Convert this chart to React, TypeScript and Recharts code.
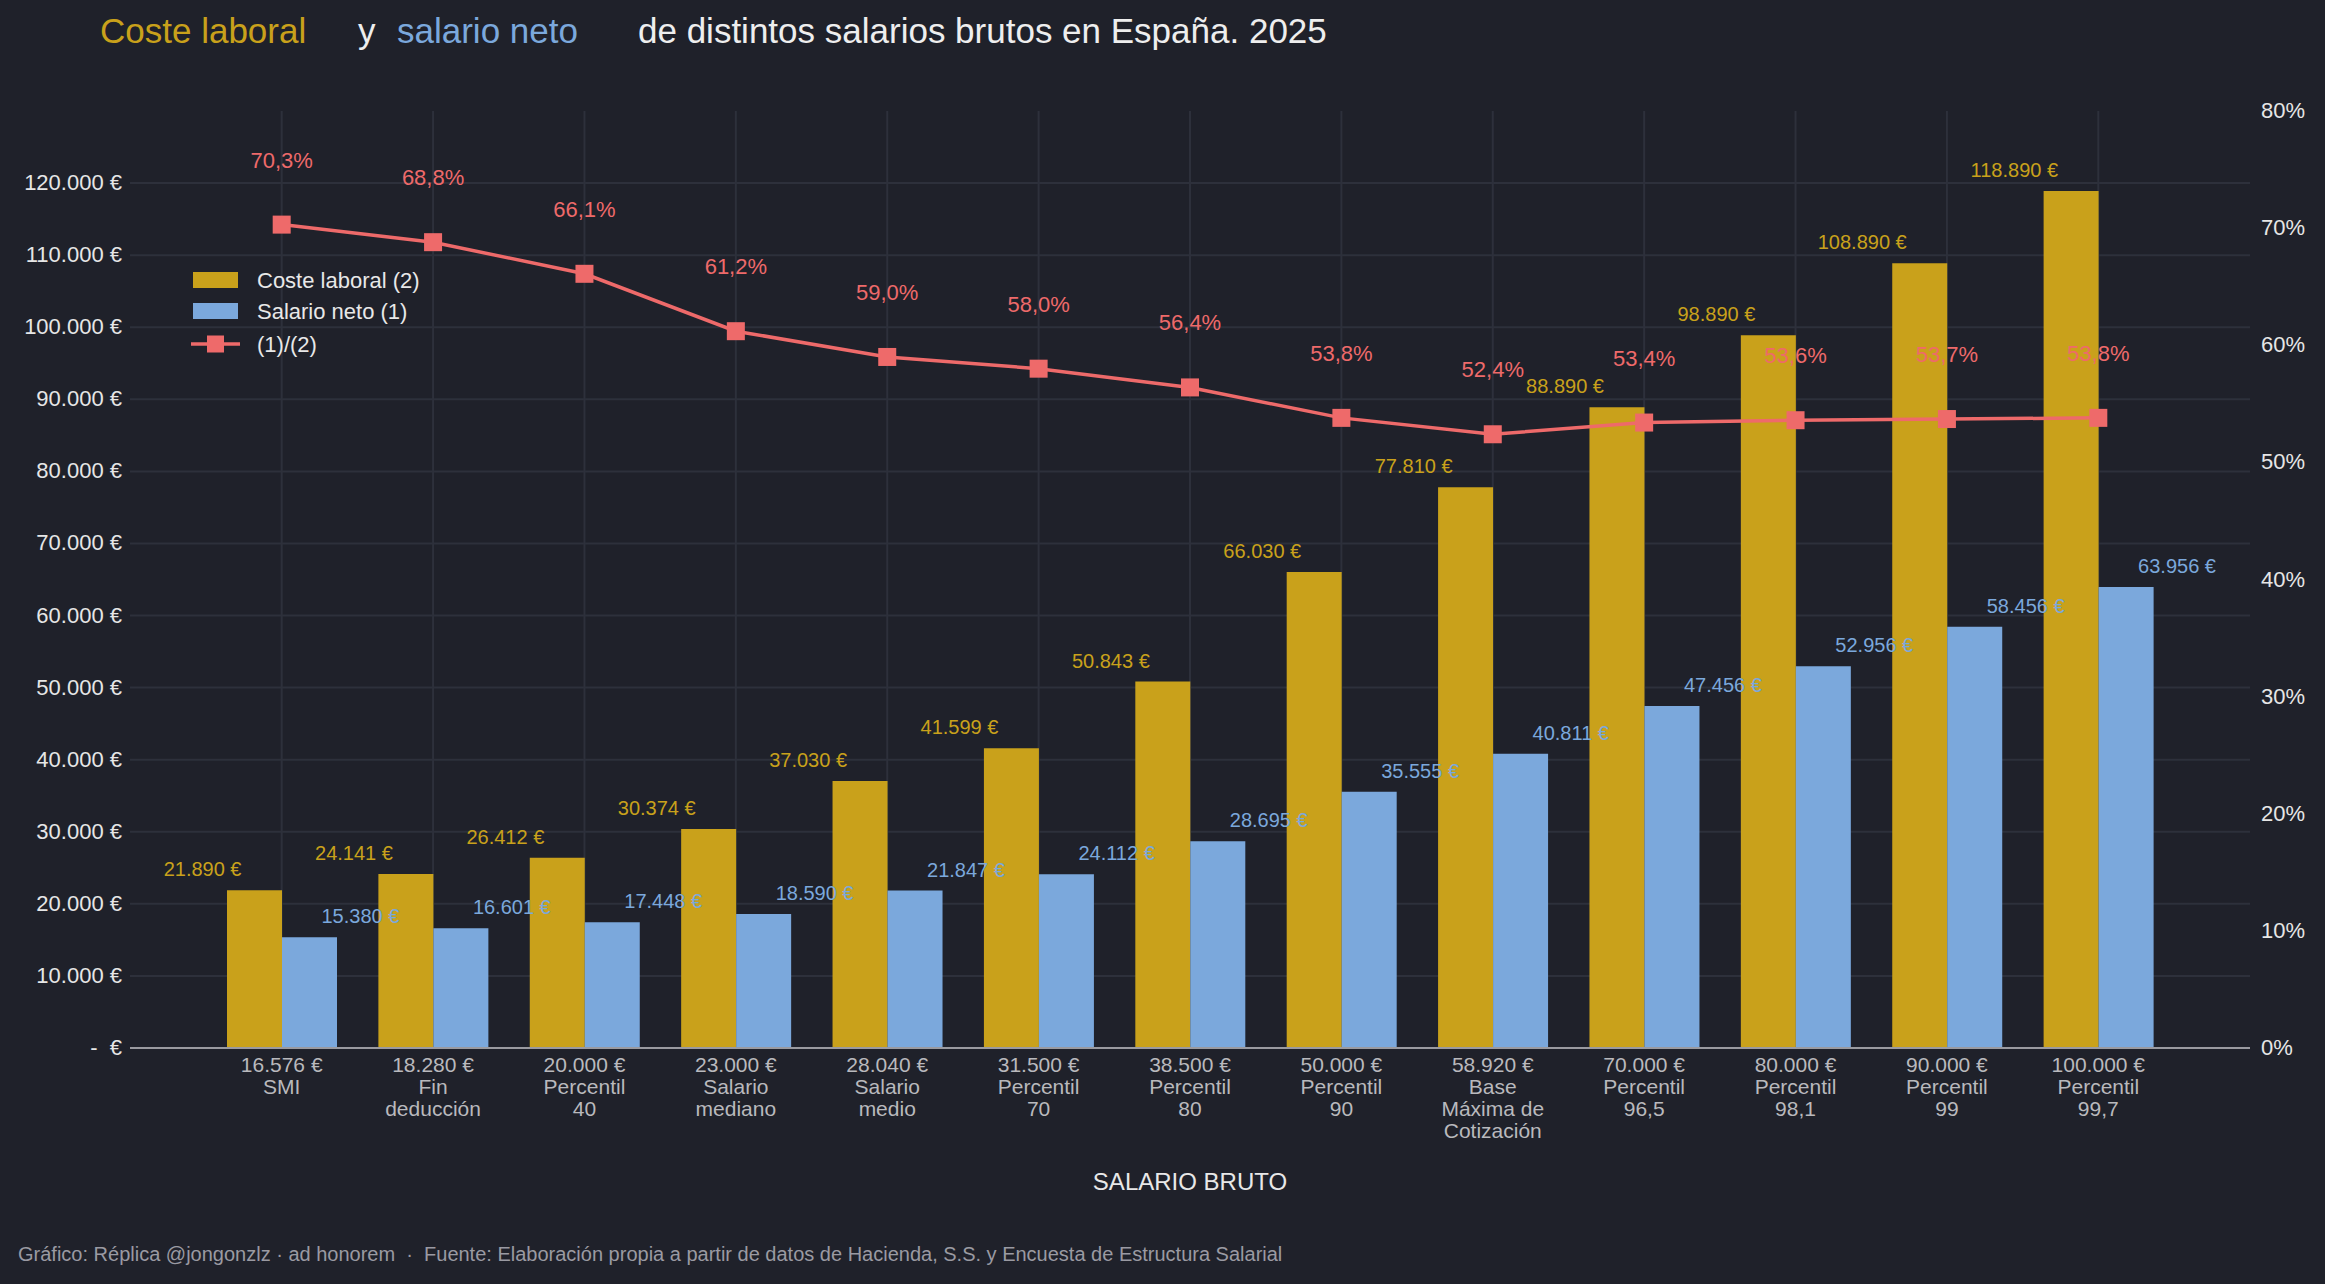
import React from 'react';
import { ComposedChart, Bar, Line, XAxis, YAxis, CartesianGrid, Legend, LabelList } from 'recharts';

const brutos = ['16.576 €', '18.280 €', '20.000 €', '23.000 €', '28.040 €', '31.500 €', '38.500 €', '50.000 €', '58.920 €', '70.000 €', '80.000 €', '90.000 €', '100.000 €'];
const descripciones = ['SMI', 'Fin\ndeducción', 'Percentil\n40', 'Salario\nmediano', 'Salario\nmedio', 'Percentil\n70', 'Percentil\n80', 'Percentil\n90', 'Base\nMáxima de\nCotización', 'Percentil\n96,5', 'Percentil\n98,1', 'Percentil\n99', 'Percentil\n99,7'];
const costeLaboral = [21890, 24141, 26412, 30374, 37030, 41599, 50843, 66030, 77810, 88890, 98890, 108890, 118890];
const salarioNeto = [15380, 16601, 17448, 18590, 21847, 24112, 28695, 35555, 40811, 47456, 52956, 58456, 63956];
const ratio = [0.703, 0.688, 0.661, 0.612, 0.59, 0.58, 0.564, 0.538, 0.524, 0.534, 0.536, 0.537, 0.538];
const leftTicks = [0, 10000, 20000, 30000, 40000, 50000, 60000, 70000, 80000, 90000, 100000, 110000, 120000];
const rightTicks = [0, 0.1, 0.2, 0.3, 0.4, 0.5, 0.6, 0.7, 0.8];

const BG = '#1f212a';
const GOLD = '#c9a11b';
const BLUE = '#7ba8dc';
const RED = '#ee6a6a';
const GRID = '#2d303b';
const FONT = '"Liberation Sans", Arial, sans-serif';

const data = brutos.map((b, i) => ({
  cat: b,
  coste: costeLaboral[i],
  neto: salarioNeto[i],
  ratio: ratio[i],
}));

const fmtEuro = (v: number) => String(v).replace(/\B(?=(\d{3})+(?!\d))/g, '.') + ' €';
const fmtPct = (v: number) => (v * 100).toFixed(1).replace('.', ',') + '%';

const LeftTick = (props: any) => {
  const { x, y, payload } = props;
  const v = payload.value as number;
  const label = v === 0 ? '-  €' : fmtEuro(v);
  return (
    <text x={x} y={y} dy={7} textAnchor="end" fill="#e6e6e6" fontSize={22} fontFamily={FONT} style={{ whiteSpace: 'pre' }}>
      {label}
    </text>
  );
};

const RightTick = (props: any) => {
  const { x, y, payload } = props;
  return (
    <text x={x} y={y} dy={7} textAnchor="start" fill="#e6e6e6" fontSize={22} fontFamily={FONT}>
      {Math.round(payload.value * 100) + '%'}
    </text>
  );
};

const XTick = (props: any) => {
  const { x, y, payload, index } = props;
  const idx = brutos.indexOf(payload.value);
  const lines = [payload.value, ...(descripciones[idx >= 0 ? idx : index] || '').split('\n')];
  return (
    <text x={x} y={y} textAnchor="middle" fill="#b9b9bd" fontSize={21} fontFamily={FONT}>
      {lines.map((l, i) => (
        <tspan key={i} x={x} dy={i === 0 ? 16 : 22}>{l}</tspan>
      ))}
    </text>
  );
};

const GoldLabel = (props: any) => {
  const { x, y, width, value } = props;
  return (
    <text x={x + width / 2 - 13} y={y - 14} textAnchor="end" fill={GOLD} fontSize={20} fontFamily={FONT}>
      {fmtEuro(value)}
    </text>
  );
};

const BlueLabel = (props: any) => {
  const { x, y, width, value } = props;
  return (
    <text x={x + width / 2 + 12} y={y - 14} textAnchor="start" fill={BLUE} fontSize={20} fontFamily={FONT}>
      {fmtEuro(value)}
    </text>
  );
};

const RatioLabel = (props: any) => {
  const { x, y, value } = props;
  return (
    <text x={x} y={y - 57} textAnchor="middle" fill={RED} fontSize={22} fontFamily={FONT}>
      {fmtPct(value)}
    </text>
  );
};

const SquareDot = (props: any) => {
  const { cx, cy, index } = props;
  if (cx == null || cy == null) return <g key={`d-${index}`} />;
  return <rect key={`d-${index}`} x={cx - 9} y={cy - 9} width={18} height={18} fill={RED} />;
};

const LegendContent = () => (
  <svg width={320} height={110} style={{ display: 'block' }}>
    <rect x={8} y={13} width={45} height={16} fill={GOLD} />
    <text x={72} y={29} fill="#e8e8e8" fontSize={22} fontFamily={FONT}>Coste laboral (2)</text>
    <rect x={8} y={44} width={45} height={16} fill={BLUE} />
    <text x={72} y={60} fill="#e8e8e8" fontSize={22} fontFamily={FONT}>Salario neto (1)</text>
    <line x1={6} x2={55} y1={85} y2={85} stroke={RED} strokeWidth={3.5} />
    <rect x={22} y={76.5} width={17} height={17} fill={RED} />
    <text x={72} y={93} fill="#e8e8e8" fontSize={22} fontFamily={FONT}>(1)/(2)</text>
  </svg>
);

export default function App() {
  return (
    <div style={{ position: 'absolute', left: 0, top: 0, width: 2325, height: 1284, background: BG, fontFamily: FONT, overflow: 'hidden' }}>
      <ComposedChart
        width={2325}
        height={1284}
        data={data}
        margin={{ top: 111, right: 0, bottom: 0, left: 0 }}
        barGap={0}
        barSize={55}
      >
        <CartesianGrid yAxisId="left" stroke={GRID} strokeWidth={2} syncWithTicks />
        <XAxis
          dataKey="cat"
          height={236}
          padding={{ left: 76, right: 76 }}
          tick={<XTick />}
          tickLine={false}
          axisLine={{ stroke: '#9a9aa0', strokeWidth: 2 }}
          interval={0}
          label={{ value: 'SALARIO BRUTO', position: 'insideBottom', offset: 94, fill: '#e8e8e8', fontSize: 24, fontFamily: FONT }}
        />
        <YAxis
          yAxisId="left"
          width={130}
          domain={[0, 130000]}
          ticks={leftTicks}
          tick={<LeftTick />}
          tickLine={false}
          axisLine={false}
        />
        <YAxis
          yAxisId="right"
          orientation="right"
          width={75}
          domain={[0, 0.8]}
          ticks={rightTicks}
          tick={<RightTick />}
          tickLine={false}
          axisLine={false}
          tickMargin={5}
        />
        <Legend
          layout="vertical"
          align="center"
          verticalAlign="middle"
          wrapperStyle={{ left: 185, top: 259, width: 320, height: 110 }}
          content={<LegendContent />}
        />
        <Bar yAxisId="left" dataKey="coste" name="Coste laboral (2)" fill={GOLD} isAnimationActive={false}>
          <LabelList dataKey="coste" content={<GoldLabel />} />
        </Bar>
        <Bar yAxisId="left" dataKey="neto" name="Salario neto (1)" fill={BLUE} isAnimationActive={false}>
          <LabelList dataKey="neto" content={<BlueLabel />} />
        </Bar>
        <Line
          yAxisId="right"
          dataKey="ratio"
          name="(1)/(2)"
          type="linear"
          stroke={RED}
          strokeWidth={3.5}
          dot={SquareDot}
          activeDot={false}
          isAnimationActive={false}
        >
          <LabelList dataKey="ratio" content={<RatioLabel />} />
        </Line>
      </ComposedChart>
      <svg width={2325} height={1284} style={{ position: 'absolute', left: 0, top: 0, pointerEvents: 'none' }}>
        <text x={100} y={43} fontSize={35} fontFamily={FONT} fill={GOLD}>Coste laboral</text>
        <text x={358} y={43} fontSize={35} fontFamily={FONT} fill="#eeeeee">y</text>
        <text x={397} y={43} fontSize={35} fontFamily={FONT} fill={BLUE}>salario neto</text>
        <text x={638} y={43} fontSize={35} fontFamily={FONT} fill="#eeeeee">de distintos salarios brutos en España. 2025</text>
        <text x={18} y={1261} fontSize={20} fontFamily={FONT} fill="#9a9aa2" style={{ whiteSpace: 'pre' }}>
          {'Gráfico: Réplica @jongonzlz · ad honorem  ·  Fuente: Elaboración propia a partir de datos de Hacienda, S.S. y Encuesta de Estructura Salarial'}
        </text>
      </svg>
    </div>
  );
}
